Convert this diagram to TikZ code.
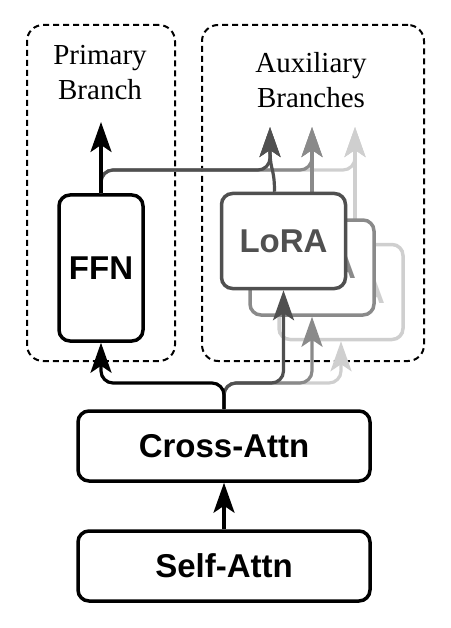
\documentclass[tikz,border=0pt]{standalone}
\usepackage{fontspec}
\setmainfont{Liberation Serif}
\newfontfamily\blockfont{Liberation Sans}
\usepackage{xcolor}
\usepackage{tikz}
\usetikzlibrary{positioning,arrows.meta}
\definecolor{loraDark}{HTML}{505050}
\definecolor{loraMid}{HTML}{8A8A8A}
\definecolor{loraLight}{HTML}{CFCFCF}

\begin{document}
\begin{tikzpicture}[x=1pt, y=-1pt,
  blk/.style={draw, line width=3.5pt, rounded corners=11pt, fill=white, align=center, font=\blockfont\bfseries\fontsize{33}{38}\selectfont},
  lora/.style={blk, minimum width=124pt, minimum height=95pt},
  branchbox/.style={draw, dash pattern=on 6pt off 4pt, line width=2pt, rounded corners=16pt},
  lbl/.style={align=center, font=\fontsize{29}{35}\selectfont},
  arr/.style={line width=3.2pt, -{Stealth[length=30pt, width=21pt, inset=7pt]}},
  wire/.style={line width=3.2pt, rounded corners=12pt}]
\useasboundingbox (0,0) rectangle (450,628);
% branch regions
\node[branchbox, minimum width=148pt, minimum height=336pt] (prim) at (101,193) {};
\node[branchbox, minimum width=222pt, minimum height=336pt] (aux) at (313,193) {};
\node[lbl] (primlbl) at (100,73) {Primary\\Branch};
\node[lbl] (auxlbl) at (311,80) {Auxiliary\\Branches};
% heads
\coordinate (pout) at (101,122);
\coordinate (aout1) at (270,127);
\coordinate (aout2) at (312,127);
\coordinate (aout3) at (355,127);
\coordinate (split) at (224,383);
% blocks
\node[blk, minimum width=292pt, minimum height=70pt] (self) at (224,566) {Self-Attn};
\node[blk, minimum width=292pt, minimum height=70pt] (cross) at (224,446) {Cross-Attn};
\node[blk, minimum width=84pt, minimum height=146pt] (ffn) at (101,268) {FFN};
% primary output shared with the auxiliary heads
\draw[wire, arr, loraLight] (ffn.north) |- (355,170) -- (aout3);
\draw[wire, arr, loraMid] (ffn.north) |- (312,170) -- (aout2);
\draw[wire, arr, loraDark] (ffn.north) |- (270,170) -- (aout1);
\draw[arr] (ffn.north) -- (pout);
% auxiliary branches, back to front
\node[lora, draw=loraLight, text=loraLight] (lora3) at (341,292) {LoRA};
\draw[arr, loraLight] ([xshift=14pt]lora3.north) -- (aout3);
\node[lora, draw=loraMid, text=loraMid] (lora2) at (312,267.5) {LoRA};
\draw[arr, loraMid] (lora2.north) -- (aout2);
\node[lora, draw=loraDark, text=loraDark] (lora1) at (283.5,241) {LoRA};
\draw[arr, loraDark] ([xshift=-9pt]lora1.north) .. controls +(0,-25) and +(0,45) .. (aout1);
% inputs from cross-attention
\draw[wire, arr, loraLight] (cross.north) -- (split) -| (lora3.south);
\draw[wire, arr, loraMid] (cross.north) -- (split) -| (lora2.south);
\draw[wire, arr, loraDark] (cross.north) -- (split) -| (lora1.south);
\draw[wire, arr] (cross.north) -- (split) -| (ffn.south);
\draw[arr] (self.north) -- (cross.south);
\end{tikzpicture}
\end{document}
